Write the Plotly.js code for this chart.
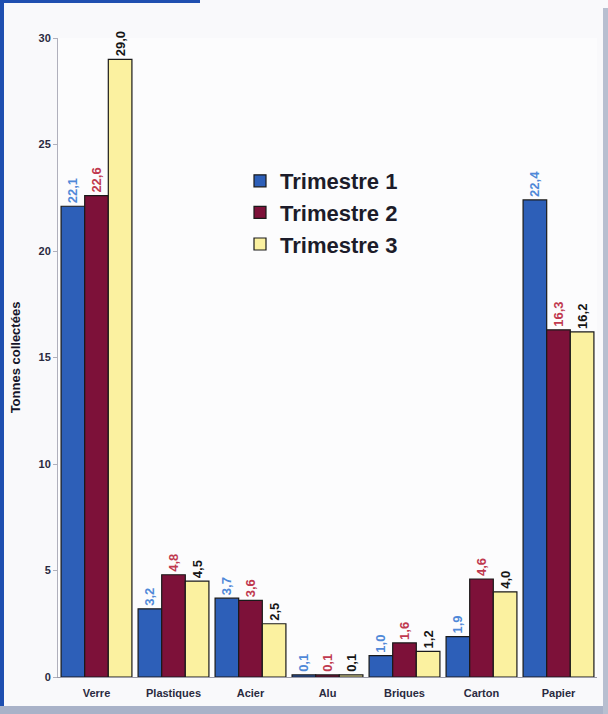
<!DOCTYPE html>
<html><head><meta charset="utf-8">
<script src="https://cdn.plot.ly/plotly-3.0.1.min.js"></script>
<style>html,body{margin:0;padding:0;background:#f9f9fb;}#chart{width:608px;height:714px;}</style>
</head><body><div id="chart"></div>
<script>
const categories = ["Verre","Plastiques","Acier","Alu","Briques","Carton","Papier"];
const seriesNames = ["Trimestre 1","Trimestre 2","Trimestre 3"];
const t1 = [22.1, 3.2, 3.7, 0.1, 1.0, 1.9, 22.4];
const t2 = [22.6, 4.8, 3.6, 0.1, 1.6, 4.6, 16.3];
const t3 = [29.0, 4.5, 2.5, 0.1, 1.2, 4.0, 16.2];
const yTicks = [0,5,10,15,20,25,30];

const fillColors = ["#2d5fb8","#7d1139","#fbf1a0"];
const labelColors = ["#4f88d8","#c0394f","#151515"];
const fmt = v => v.toFixed(1).replace(".", ",");

const W = 608, H = 714, L = 58, R = 11, T = 38, B = 37;
const pw = W - L - R, ph = H - T - B;
const px = x => (x - L) / pw;
const py = y => (H - B - y) / ph;

const traces = [t1,t2,t3].map((vals,i) => ({
  type: "bar",
  name: seriesNames[i],
  x: categories,
  y: vals,
  text: vals.map(fmt),
  textposition: "outside",
  textangle: -90,
  constraintext: "none",
  cliponaxis: false,
  textfont: {family: "Arial, Liberation Sans, sans-serif", size: 13, weight: "bold", color: labelColors[i]},
  marker: {color: fillColors[i], line: {color: "#1a1a1a", width: 1.2}},
  hoverinfo: "skip"
}));

const layout = {
  width: W, height: H,
  margin: {l: L, r: R, t: T, b: B},
  paper_bgcolor: "#f9f9fb",
  plot_bgcolor: "#fcfcfd",
  barmode: "group",
  bargap: 0.08,
  bargroupgap: 0,
  showlegend: true,
  legend: {
    x: px(240), y: py(160), xanchor: "left", yanchor: "top",
    bgcolor: "rgba(0,0,0,0)",
    font: {family: "Arial, Liberation Sans, sans-serif", size: 22, weight: "bold", color: "#1c1c2a"},
    tracegroupgap: 3, itemwidth: 30
  },
  xaxis: {
    type: "category",
    showline: true, linecolor: "#9a9aa8", linewidth: 1,
    ticks: "", showgrid: false,
    tickfont: {family: "Arial, Liberation Sans, sans-serif", size: 11, weight: "bold", color: "#2a2a40"},
    ticklabelstandoff: 6
  },
  yaxis: {
    range: [0, 30],
    tickvals: yTicks,
    ticktext: yTicks.map(String),
    showline: true, linecolor: "#b0b0bc", linewidth: 1,
    ticks: "outside", ticklen: 4, tickcolor: "#b0b0bc",
    showgrid: false, zeroline: false,
    tickfont: {family: "Arial, Liberation Sans, sans-serif", size: 11, weight: "bold", color: "#2a2a40"},
    title: {text: "Tonnes collectées", standoff: 14,
      font: {family: "Arial, Liberation Sans, sans-serif", size: 13, weight: "bold", color: "#15152a"}}
  },
  shapes: [
    {type:"rect", xref:"paper", yref:"paper", x0: px(0), x1: px(4), y0: py(710), y1: py(0), fillcolor:"#1f4fb0", line:{width:0}, layer:"above"},
    {type:"rect", xref:"paper", yref:"paper", x0: px(0), x1: px(200), y0: py(3), y1: py(0), fillcolor:"#1f4fb0", line:{width:0}, layer:"above"},
    {type:"rect", xref:"paper", yref:"paper", x0: px(0), x1: px(608), y0: py(714), y1: py(706), fillcolor:"#a9b2c8", line:{width:0}, layer:"above"},
    {type:"rect", xref:"paper", yref:"paper", x0: px(603), x1: px(608), y0: py(714), y1: py(8), fillcolor:"#b8bfd0", line:{width:0}, layer:"above"}
  ]
};

Plotly.newPlot("chart", traces, layout, {displayModeBar: false, staticPlot: true});
</script></body></html>
